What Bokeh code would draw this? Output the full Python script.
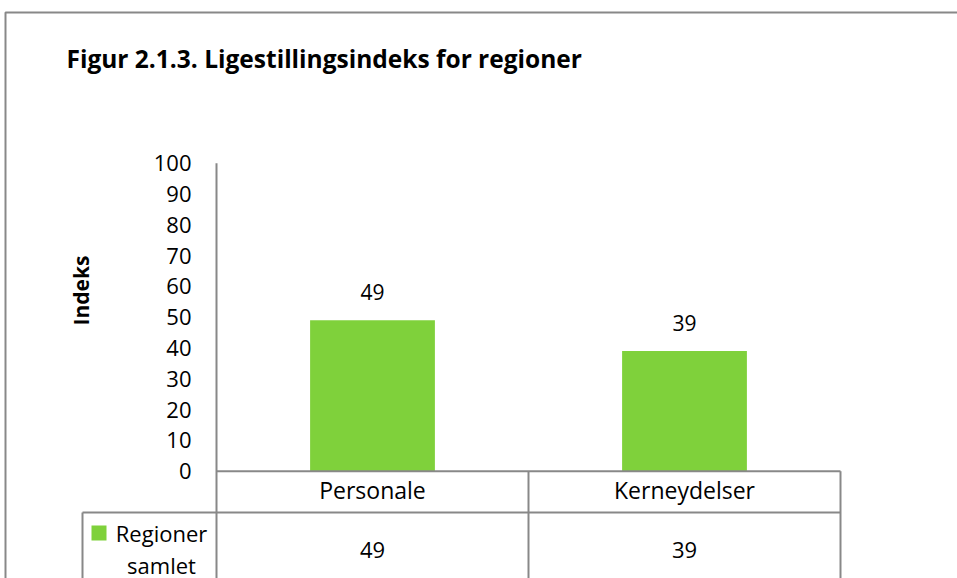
from bokeh.plotting import figure
from bokeh.models import Range1d, LabelSet, ColumnDataSource
from bokeh.core.properties import value
from bokeh.embed import file_html
from bokeh.resources import INLINE
import math

# ---------------- data ----------------
title_text = "Figur 2.1.3. Ligestillingsindeks for regioner"
y_label = "Indeks"
categories = ["Personale", "Kerneydelser"]
series_name = ["Regioner", "samlet"]
values = [49, 39]
y_ticks = list(range(0, 101, 10))

# ---------------- layout / style ----------------
W, H = 957, 578
PLOT_L, PLOT_R = 216, 840          # pixel x of category area
Y0_PX, Y100_PX = 470.7, 162.7      # pixel y of value 0 and 100
GREEN = "#7FD13B"
GRAY = "#888888"
FONT = value("Open Sans")

cat_w = (PLOT_R - PLOT_L) / len(categories)
ppu = (Y0_PX - Y100_PX) / 100.0

p = figure(width=W, height=H, x_range=Range1d(0, W), y_range=Range1d(H, 0),
           min_border=0, x_axis_type=None, y_axis_type=None,
           output_backend="svg", toolbar_location=None)
p.outline_line_color = None
p.grid.visible = False
p.background_fill_color = "white"
p.border_fill_color = "white"

p.extra_x_ranges = {"cat": Range1d(-PLOT_L / cat_w, (W - PLOT_L) / cat_w)}
p.extra_y_ranges = {"val": Range1d(-(H - Y0_PX) / ppu, 100 + Y100_PX / ppu)}

xs = [i + 0.5 for i in range(len(categories))]
src = ColumnDataSource(dict(x=xs, cat=categories, val=values,
                            txt=[str(v) for v in values]))

# outer chart border (top + left visible)
p.line(x=[5, 5, W + 10], y=[H + 10, 12, 12], line_color=GRAY, line_width=2)

# bars
p.vbar(x="x", top="val", bottom=0, width=0.4, source=src,
       x_range_name="cat", y_range_name="val",
       fill_color=GREEN, line_color=None)

# value axis line (continues down as table divider)
bottom_val = -(H + 10 - Y0_PX) / ppu
n = len(categories)
p.segment(x0=[0] + list(range(1, n + 1)), y0=[100] + [0] * n,
          x1=[0] + list(range(1, n + 1)), y1=[bottom_val] * (n + 1),
          x_range_name="cat", y_range_name="val",
          line_color=GRAY, line_width=2)
# category axis line (top of data table)
p.segment(x0=[0], y0=[0], x1=[n], y1=[0], x_range_name="cat", y_range_name="val",
          line_color=GRAY, line_width=2)

# data table row line and left border of legend cell
p.segment(x0=[82, 82], y0=[512, 512], x1=[PLOT_R, 82], y1=[512, H + 10],
          line_color=GRAY, line_width=2)

# tick labels
tick_src = ColumnDataSource(dict(x=[0] * len(y_ticks), y=y_ticks,
                                 t=[str(t) for t in y_ticks]))
p.add_layout(LabelSet(x="x", y="y", text="t", source=tick_src,
                      x_range_name="cat", y_range_name="val",
                      x_offset=-25, text_align="right", text_baseline="middle",
                      text_font=FONT, text_font_size="22px", text_color="black"))

# bar value labels
p.add_layout(LabelSet(x="x", y="val", text="txt", source=src,
                      x_range_name="cat", y_range_name="val", y_offset=28,
                      text_align="center", text_baseline="middle",
                      text_font=FONT, text_font_size="21px", text_color="black"))

# category labels (table header row)
p.text(x="x", y=489.7, text="cat", source=src, x_range_name="cat",
       text_align="center", text_baseline="middle",
       text_font=FONT, text_font_size="23px", text_color="black")

# table values
p.text(x="x", y=549, text="txt", source=src, x_range_name="cat",
       text_align="center", text_baseline="middle",
       text_font=FONT, text_font_size="22px", text_color="black")

# legend key + series name
p.quad(left=[91], right=[106], top=[525], bottom=[540],
       fill_color=GREEN, line_color=None)
p.text(x=[161, 161], y=[532, 564], text=series_name,
       text_align="center", text_baseline="middle",
       text_font=FONT, text_font_size="22px", text_color="black")

# title
p.text(x=[66], y=[57.7], text=[title_text], text_align="left", text_baseline="middle",
       text_font=FONT, text_font_style="bold", text_font_size="24.5px",
       text_color="black")

# value axis title
p.text(x=[80], y=[290], text=[y_label], angle=math.pi / 2,
       text_align="center", text_baseline="middle",
       text_font=FONT, text_font_style="bold", text_font_size="21px",
       text_color="black")

open("out.html", "w").write(file_html(p, INLINE))
